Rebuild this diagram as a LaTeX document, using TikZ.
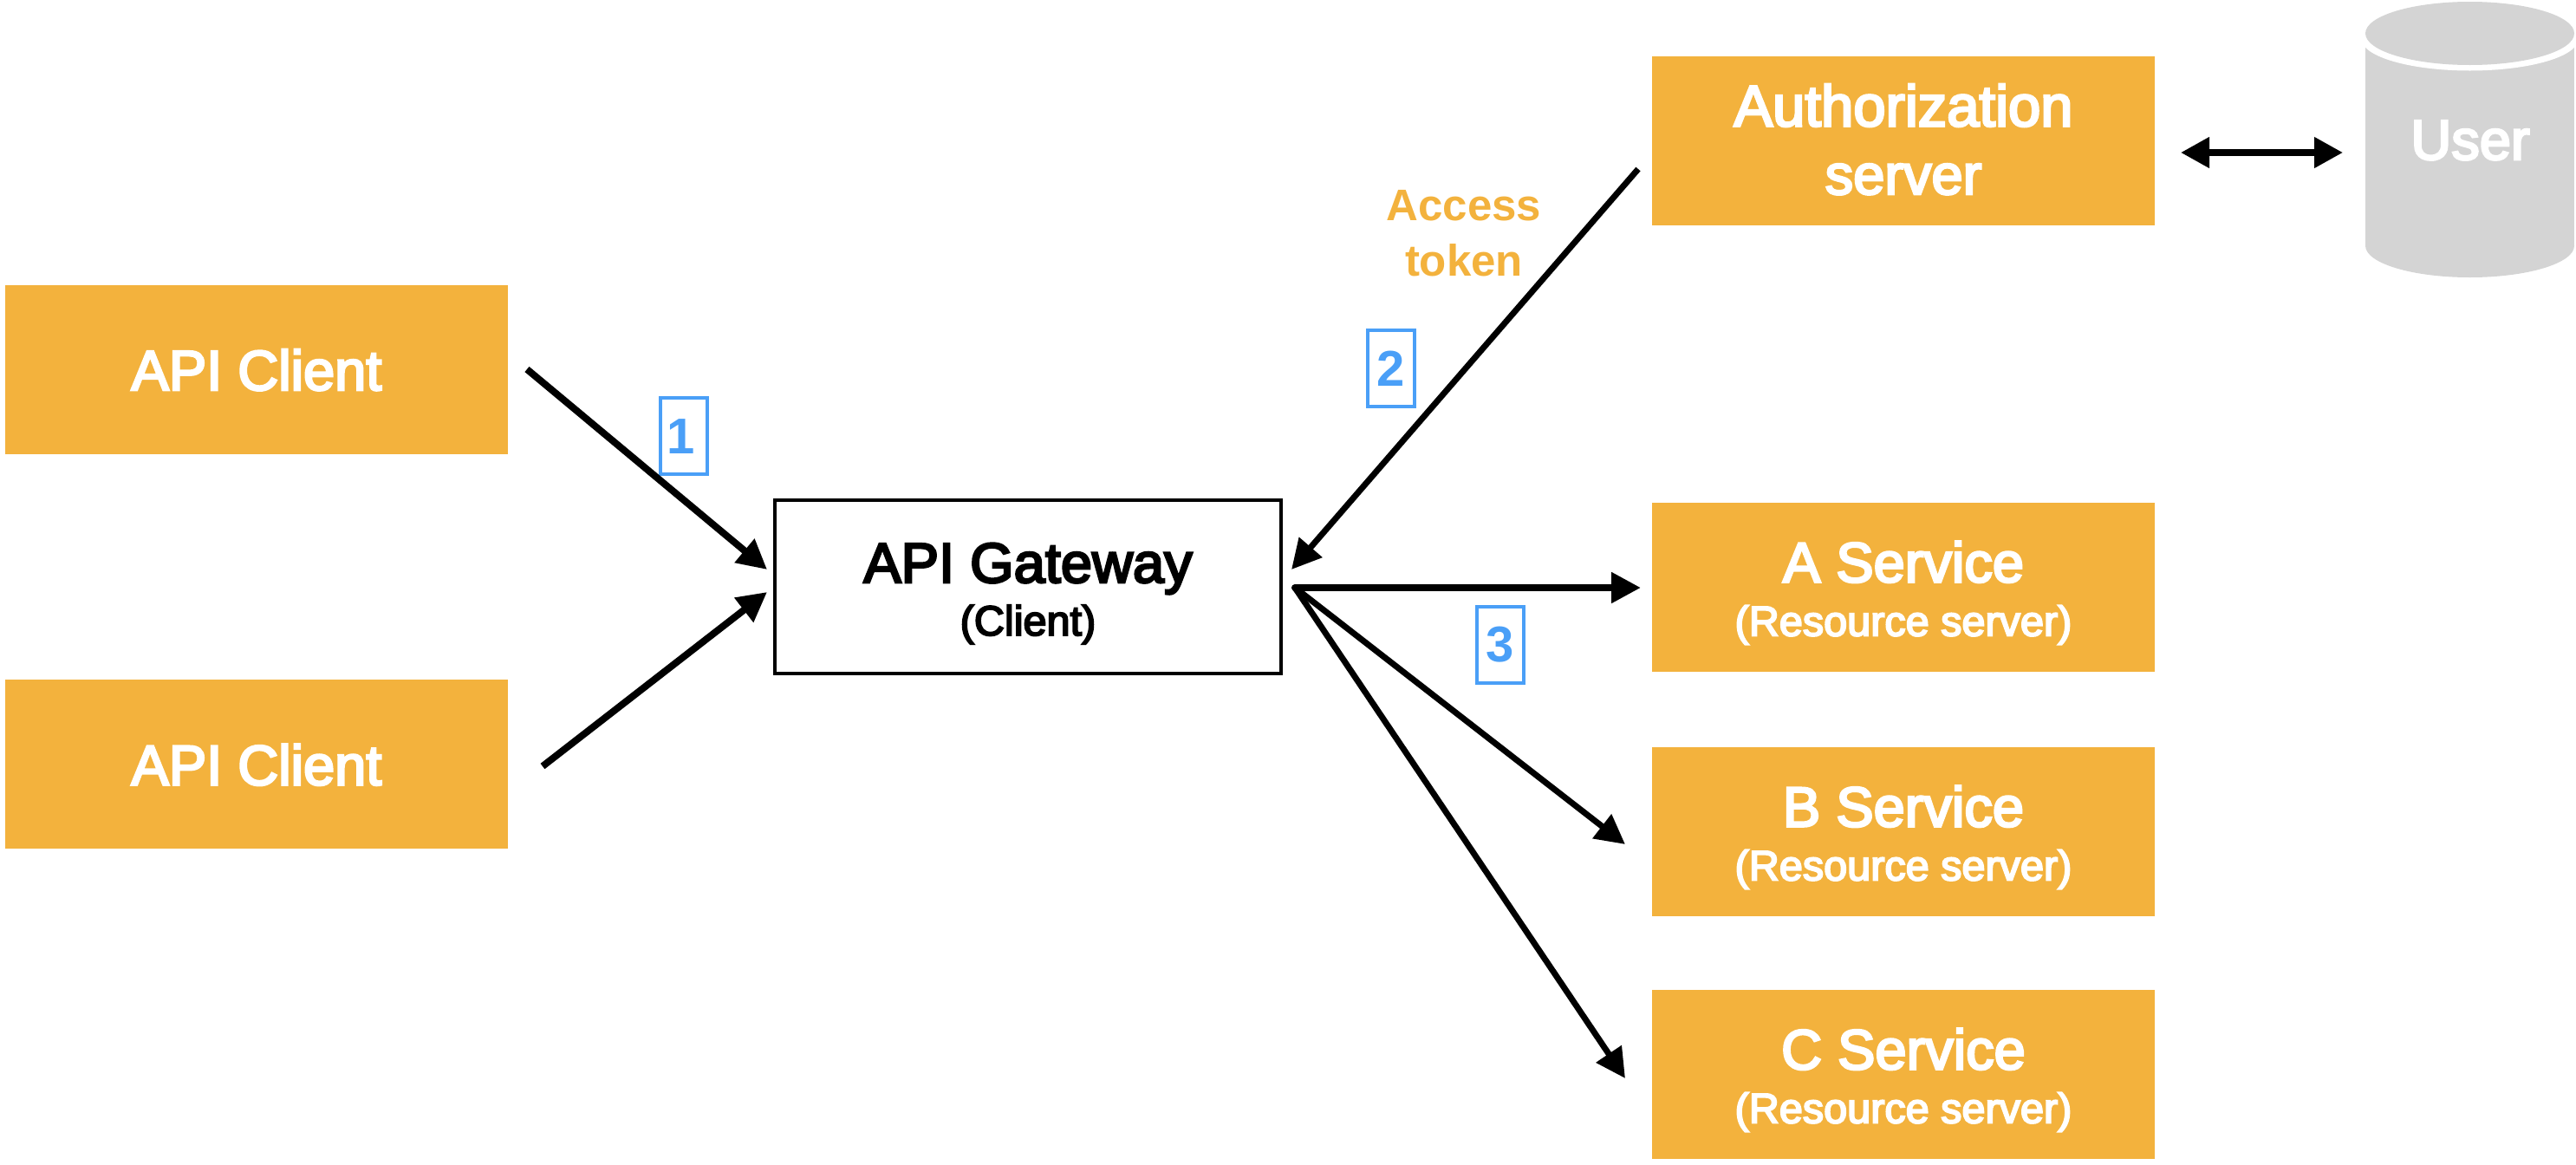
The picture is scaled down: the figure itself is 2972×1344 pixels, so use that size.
\documentclass[tikz,border=0pt]{standalone}
\usepackage{fontspec}
\setmainfont{Liberation Sans}
\newfontfamily\medfont[FakeBold=4]{Liberation Sans}
\usetikzlibrary{arrows.meta}
\definecolor{boxorange}{HTML}{F3B23D}
\definecolor{dbgray}{HTML}{D4D4D4}
\definecolor{numblue}{HTML}{4A9FF7}
\newdimen\px \px=0.5pt
% a line of text placed #1 px below the node's centre, with no effect on the node's size
\newcommand{\dropline}[2]{\raisebox{-#1\px}[0pt][0pt]{\makebox[0pt]{#2}}}
\newcommand{\bigtext}{\fontsize{32.5pt}{38pt}\medfont\selectfont}
\newcommand{\authtext}{\fontsize{33.5pt}{38pt}\medfont\selectfont}
\newcommand{\smalltext}{\fontsize{24.3pt}{28pt}\medfont\selectfont}
\newcommand{\midtext}{\fontsize{25.5pt}{30pt}\bfseries\selectfont}
\newcommand{\numtext}{\fontsize{29pt}{34pt}\bfseries\selectfont}
\tikzset{
  x=0.5pt,y=-0.5pt,
  orangebox/.style={fill=boxorange,draw=none,text=white,inner sep=0pt,outer sep=0pt,minimum width=290pt,minimum height=97.5pt},
  clientbox/.style={orangebox,minimum width=290pt},
  gatewaybox/.style={draw=black,fill=white,line width=2pt,text=black,inner sep=0pt,outer sep=0pt,minimum width=292pt,minimum height=100pt},
  numbox/.style={draw=numblue,line width=2pt,text=numblue,inner sep=0pt,outer sep=0pt,minimum width=27pt,minimum height=44pt},
  flow/.style={draw=black,line width=4pt,-{Triangle[length=17pt,width=17pt]}},
  thinflow/.style={draw=black,line width=3.5pt,-{Triangle[length=17pt,width=17pt]}},
  twoway/.style={draw=black,line width=3.8pt,{Triangle[length=16.5pt,width=17pt]}-{Triangle[length=16.5pt,width=17pt]}},
}
\begin{document}
\begin{tikzpicture}
\useasboundingbox (0,0) rectangle (2972,1344);

% boxes
\node[clientbox] (clientA) at (296,426) {\bigtext\dropline{24}{API Client}};
\node[clientbox] (clientB) at (296,881.5) {\bigtext\dropline{24}{API Client}};
\node[gatewaybox] (gateway) at (1186,677) {\bigtext\dropline{-5}{API Gateway}\smalltext\dropline{56}{(Client)}};
\node[orangebox] (auth) at (2196,162) {\authtext\dropline{-16.5}{Authorization}\bigtext\dropline{62}{server}};
\node[orangebox] (svcA) at (2196,677.5) {\bigtext\dropline{-6}{A Service}\smalltext\dropline{56}{(Resource server)}};
\node[orangebox] (svcB) at (2196,959.5) {\bigtext\dropline{-6}{B Service}\smalltext\dropline{56}{(Resource server)}};
\node[orangebox] (svcC) at (2196,1239.5) {\bigtext\dropline{-6}{C Service}\smalltext\dropline{56}{(Resource server)}};

% user database
\fill[dbgray] (2729,45) rectangle (2970,283.5);
\fill[dbgray] (2849.5,283.5) ellipse [x radius=120.5,y radius=36.5];
\fill[white] (2849.5,45) ellipse [x radius=125,y radius=36.5];
\fill[dbgray] (2849.5,38.5) ellipse [x radius=120.5,y radius=36.5];
\node[text=white,inner sep=0pt,anchor=base] (user) at (2850,184) {\bigtext User};

% labels
\node[text=boxorange,inner sep=0pt,anchor=base] (accessA) at (1689,254) {\midtext Access};
\node[text=boxorange,inner sep=0pt,anchor=base] (accessB) at (1689,318) {\midtext token};
\node[numbox] (one) at (789,503) {\numtext\dropline{20}{1\kern6\px}};
\node[numbox] (two) at (1605,425) {\numtext\dropline{20}{2}};
\node[numbox] (three) at (1730.5,743.5) {\numtext\dropline{20}{3}};

% connector ends
\coordinate (c1s) at (608,426);
\coordinate (c1e) at (885,657);
\coordinate (c2s) at (626,884);
\coordinate (c2e) at (885,683);
\coordinate (asS) at (1890,195);
\coordinate (asE) at (1490,657);
\coordinate (hub) at (1494,678);
\coordinate (hubA) at (1893,678);
\coordinate (hubB) at (1875,974);
\coordinate (hubC) at (1875,1244);
\coordinate (dbL) at (2516,176);
\coordinate (dbR) at (2703,176);

% connectors
\draw[flow] (c1s) -- (c1e);
\draw[flow] (c2s) -- (c2e);
\draw[thinflow] (asS) -- (asE);
\draw[flow,line cap=round] (hub) -- (hubA);
\draw[thinflow,line cap=round] (hub) -- (hubB);
\draw[thinflow,line cap=round] (hub) -- (hubC);
\draw[twoway] (dbL) -- (dbR);
\end{tikzpicture}
\end{document}
